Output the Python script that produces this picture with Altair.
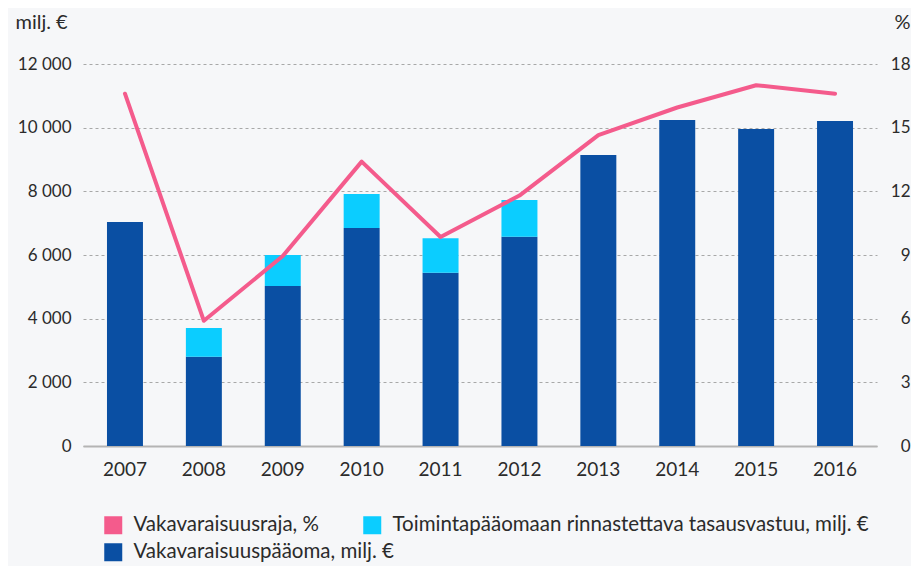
import altair as alt
import pandas as pd

years = ["2007", "2008", "2009", "2010", "2011", "2012", "2013", "2014", "2015", "2016"]
capital = [7040, 2800, 5030, 6850, 5440, 6570, 9140, 10240, 9960, 10210]
equalization = [0, 910, 970, 1070, 1090, 1160, 0, 0, 0, 0]
solvency_limit = [16.6, 5.9, 8.95, 13.4, 9.85, 11.8, 14.65, 15.95, 17.0, 16.6]

s_line = "Vakavaraisuusraja, %"
s_eq = "Toimintapääomaan rinnastettava tasausvastuu, milj. €"
s_cap = "Vakavaraisuuspääoma, milj. €"

series_names = [s_line, s_cap, s_eq]
series_colors = ["#f45b8c", "#0a4fa3", "#0bcdff"]

rows = []
for y, c, e in zip(years, capital, equalization):
    rows.append({"year": y, "series": s_cap, "value": c, "ord": 0})
    rows.append({"year": y, "series": s_eq, "value": e, "ord": 1})
bars_df = pd.DataFrame(rows)
line_df = pd.DataFrame({"year": years, "pct": solvency_limit})

FONT = "Lato"
TXT = "#2b2b2b"

xenc = alt.X(
    "year:N",
    sort=years,
    scale=alt.Scale(paddingInner=0.544, paddingOuter=0.304),
    axis=alt.Axis(
        title=None, labelAngle=0, ticks=False, domainColor="#b4b4b4", domainWidth=2,
        labelFontSize=19, labelPadding=14, labelColor=TXT, labelFont=FONT, grid=False,
    ),
)

bars = alt.Chart(bars_df).mark_bar().encode(
    x=xenc,
    y=alt.Y(
        "value:Q",
        stack="zero",
        scale=alt.Scale(domain=[0, 12000], nice=False),
        axis=alt.Axis(
            values=[0, 2000, 4000, 6000, 8000, 10000, 12000],
            labelExpr="replace(format(datum.value, ','), ',', ' ')",
            title="milj. €", titleAngle=0, titleX=-68, titleY=-42, titleAlign="left",
            titleBaseline="middle", titleFontSize=20, titleFontWeight="normal",
            titleColor=TXT, titleFont=FONT,
            labelFontSize=17, labelColor=TXT, labelFont=FONT, labelPadding=12,
            ticks=False, domain=False,
            grid=True, gridDash=[3, 3], gridColor="#a8a8a8", gridWidth=1,
        ),
    ),
    color=alt.Color(
        "series:N",
        scale=alt.Scale(domain=series_names, range=series_colors),
        legend=alt.Legend(
            title=None, orient="none", legendX=20, legendY=451,
            columns=2, gridAlign="none", columnPadding=-32, rowPadding=6,
            symbolType="square", symbolSize=324, symbolStrokeWidth=0, symbolOffset=0,
            labelFontSize=20.5, labelColor=TXT, labelFont=FONT, labelLimit=700,
            labelOffset=10,
        ),
    ),
    order=alt.Order("ord:Q"),
)

line = alt.Chart(line_df).mark_line(
    color="#f45b8c", strokeWidth=4, strokeCap="round", strokeJoin="round"
).encode(
    x=xenc,
    y=alt.Y(
        "pct:Q",
        scale=alt.Scale(domain=[0, 18], nice=False),
        axis=alt.Axis(
            orient="right", values=[0, 3, 6, 9, 12, 15, 18],
            title="%", titleAngle=0, titleX=33, titleY=-42, titleAlign="right",
            titleBaseline="middle", titleFontSize=20, titleFontWeight="normal",
            titleColor=TXT, titleFont=FONT,
            labelFontSize=17, labelColor=TXT, labelFont=FONT, labelPadding=33,
            labelAlign="right", ticks=False, domain=False, grid=False,
        ),
    ),
)

chart = alt.layer(bars, line).resolve_scale(y="independent").properties(
    width=794, height=382,
    autosize=alt.AutoSizeParams(type="none"),
    padding={"left": 75, "top": 56, "right": 34, "bottom": 120},
    background="#f6f7f9",
).configure_view(stroke=None)

chart.save("out.html", embed_options={"renderer": "svg", "actions": False})
